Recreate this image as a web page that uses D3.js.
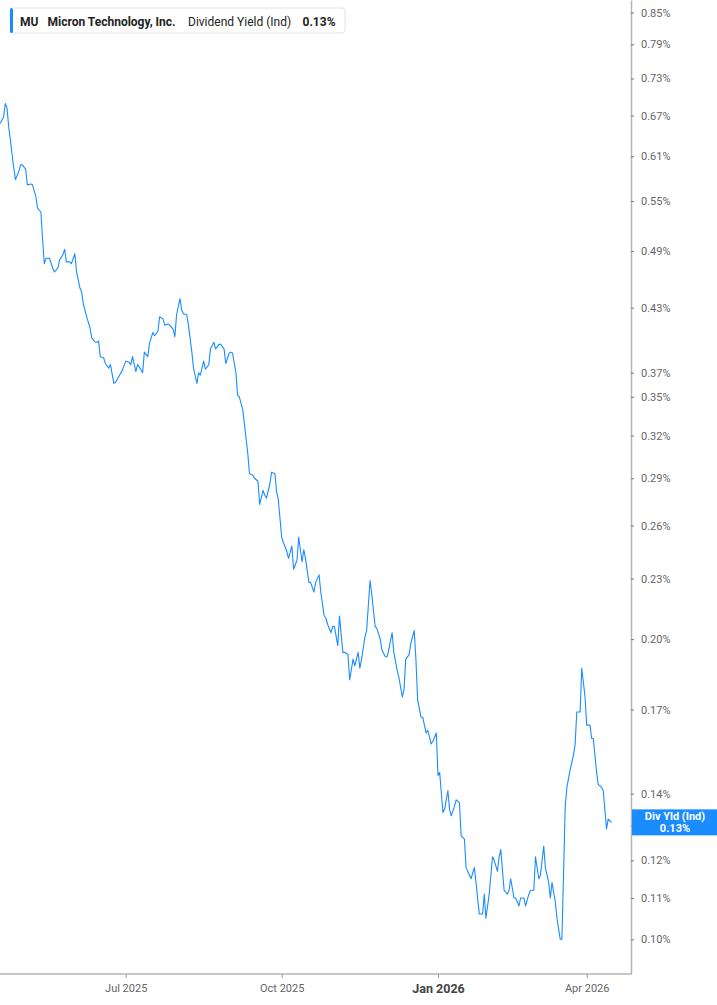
<!DOCTYPE html>
<html>
<head>
<meta charset="utf-8">
<script src="https://cdn.jsdelivr.net/npm/d3@7"></script>
<style>
	body { margin: 0; background: #fff; }
	svg { display: block; font-family: Roboto, "Noto Sans", sans-serif; }
</style>
</head>
<body>
<svg width="717" height="1005"></svg>
<script>
// MU dividend yield (indicated), in percent
const dates = [
	"2025-04-18","2025-04-20","2025-04-21","2025-04-22","2025-04-23","2025-04-24","2025-04-26","2025-04-27","2025-04-29","2025-04-30",
	"2025-05-01","2025-05-03","2025-05-04","2025-05-06","2025-05-07","2025-05-09","2025-05-10","2025-05-12","2025-05-13","2025-05-14",
	"2025-05-15","2025-05-17","2025-05-19","2025-05-20","2025-05-22","2025-05-23","2025-05-25","2025-05-26","2025-05-27","2025-05-29","2025-05-30",
	"2025-06-01","2025-06-02","2025-06-04","2025-06-05","2025-06-06","2025-06-08","2025-06-10","2025-06-11","2025-06-13","2025-06-14",
	"2025-06-15","2025-06-16","2025-06-18","2025-06-19","2025-06-21","2025-06-22","2025-06-24","2025-06-25","2025-06-27","2025-06-29",
	"2025-07-01","2025-07-03","2025-07-04","2025-07-05","2025-07-07","2025-07-08","2025-07-09","2025-07-11","2025-07-12","2025-07-14",
	"2025-07-15","2025-07-17","2025-07-18","2025-07-20","2025-07-21","2025-07-23","2025-07-24","2025-07-26","2025-07-27","2025-07-29","2025-07-30","2025-07-31",
	"2025-08-02","2025-08-03","2025-08-04","2025-08-06","2025-08-07","2025-08-09","2025-08-10","2025-08-12","2025-08-13","2025-08-14",
	"2025-08-16","2025-08-17","2025-08-19","2025-08-20","2025-08-22","2025-08-23","2025-08-25","2025-08-26","2025-08-28","2025-08-29","2025-08-31",
	"2025-09-01","2025-09-02","2025-09-04","2025-09-05","2025-09-06","2025-09-08","2025-09-09","2025-09-11","2025-09-12","2025-09-14",
	"2025-09-15","2025-09-17","2025-09-18","2025-09-20","2025-09-21","2025-09-22","2025-09-24","2025-09-25","2025-09-27","2025-09-28","2025-09-29",
	"2025-10-01","2025-10-02","2025-10-04","2025-10-05","2025-10-07","2025-10-08","2025-10-10","2025-10-11","2025-10-13","2025-10-14",
	"2025-10-15","2025-10-17","2025-10-18","2025-10-20","2025-10-21","2025-10-23","2025-10-24","2025-10-26","2025-10-27","2025-10-28","2025-10-30","2025-10-31",
	"2025-11-01","2025-11-03","2025-11-04","2025-11-06","2025-11-07","2025-11-09","2025-11-10","2025-11-12","2025-11-13","2025-11-15",
	"2025-11-16","2025-11-17","2025-11-19","2025-11-20","2025-11-22","2025-11-23","2025-11-25","2025-11-26","2025-11-28","2025-11-29",
	"2025-12-01","2025-12-02","2025-12-03","2025-12-05","2025-12-06","2025-12-08","2025-12-09","2025-12-11","2025-12-12","2025-12-13",
	"2025-12-15","2025-12-16","2025-12-18","2025-12-19","2025-12-20","2025-12-22","2025-12-23","2025-12-25","2025-12-26","2025-12-28","2025-12-29","2025-12-31",
	"2026-01-01","2026-01-02","2026-01-04","2026-01-05","2026-01-07","2026-01-08","2026-01-09","2026-01-11","2026-01-12","2026-01-14",
	"2026-01-15","2026-01-17","2026-01-18","2026-01-20","2026-01-21","2026-01-23","2026-01-24","2026-01-26","2026-01-28","2026-01-29","2026-01-30",
	"2026-02-01","2026-02-03","2026-02-04","2026-02-06","2026-02-07","2026-02-08","2026-02-10","2026-02-12","2026-02-13","2026-02-14",
	"2026-02-16","2026-02-17","2026-02-19","2026-02-20","2026-02-22","2026-02-23","2026-02-25","2026-02-26","2026-02-28",
	"2026-03-01","2026-03-03","2026-03-04","2026-03-06","2026-03-07","2026-03-09","2026-03-10","2026-03-11","2026-03-13","2026-03-14",
	"2026-03-16","2026-03-17","2026-03-19","2026-03-20","2026-03-22","2026-03-24","2026-03-25","2026-03-26","2026-03-28","2026-03-29","2026-03-31",
	"2026-04-01","2026-04-03","2026-04-04","2026-04-05","2026-04-07","2026-04-08","2026-04-10","2026-04-11","2026-04-13","2026-04-14","2026-04-16"
]
const yields = [
	0.658,0.668,0.689,0.682,0.653,0.633,0.593,0.578,0.589,0.598,
	0.598,0.592,0.571,0.572,0.571,0.556,0.541,0.536,0.503,0.476,
	0.482,0.482,0.471,0.467,0.471,0.480,0.486,0.492,0.478,0.478,0.476,
	0.487,0.467,0.450,0.446,0.434,0.421,0.410,0.401,0.397,0.397,
	0.398,0.384,0.383,0.378,0.374,0.377,0.361,0.362,0.367,0.372,
	0.380,0.379,0.377,0.384,0.371,0.377,0.375,0.370,0.388,0.384,
	0.396,0.406,0.403,0.407,0.421,0.419,0.413,0.414,0.413,0.409,0.402,0.423,
	0.439,0.428,0.424,0.423,0.413,0.388,0.374,0.361,0.370,0.368,
	0.380,0.373,0.377,0.391,0.397,0.391,0.395,0.395,0.391,0.378,0.387,
	0.388,0.387,0.370,0.351,0.350,0.340,0.329,0.307,0.293,0.292,
	0.290,0.288,0.273,0.282,0.279,0.277,0.286,0.294,0.293,0.281,0.276,
	0.253,0.250,0.245,0.241,0.248,0.235,0.240,0.253,0.239,0.246,
	0.241,0.228,0.228,0.223,0.228,0.232,0.223,0.211,0.210,0.207,0.203,0.206,
	0.206,0.197,0.211,0.194,0.194,0.193,0.182,0.191,0.188,0.194,
	0.187,0.191,0.201,0.204,0.229,0.222,0.206,0.205,0.200,0.195,
	0.192,0.192,0.195,0.203,0.194,0.186,0.183,0.175,0.178,0.191,
	0.193,0.198,0.204,0.191,0.174,0.167,0.167,0.161,0.162,0.157,0.158,0.161,
	0.146,0.147,0.134,0.135,0.141,0.135,0.133,0.136,0.138,0.137,
	0.127,0.126,0.118,0.116,0.115,0.118,0.114,0.106,0.106,0.111,0.105,
	0.111,0.121,0.120,0.117,0.121,0.123,0.112,0.111,0.112,0.115,
	0.110,0.110,0.108,0.110,0.110,0.108,0.111,0.112,0.112,
	0.121,0.115,0.116,0.124,0.118,0.114,0.110,0.114,0.109,0.105,
	0.100,0.100,0.136,0.142,0.148,0.153,0.157,0.169,0.169,0.187,0.175,
	0.164,0.164,0.159,0.159,0.147,0.143,0.142,0.141,0.129,0.132,0.131
]
const yTickValues = [0.10,0.11,0.12,0.13,0.14,0.17,0.20,0.23,0.26,0.29,0.32,0.35,0.37,0.43,0.49,0.55,0.61,0.67,0.73,0.79,0.85]
const xTickDates = ["2025-07-01","2025-10-01","2026-01-01","2026-04-01"]
const xTickLabels = ["Jul 2025","Oct 2025","Jan 2026","Apr 2026"]
const legendParts = ["MU","Micron Technology, Inc.","Dividend Yield (Ind)","0.13%"]
const endLabel = ["Div Yld (Ind)","0.13%"]

const BLUE = "#1a8cff"

class YieldChart {

	constructor(){
		this.svg = d3.select("svg")
		this.right = 631
		this.bottom = 974
		const parse = d3.timeParse("%Y-%m-%d")
		this.points = dates.map((d, i) => ({date: parse(d), value: yields[i]}))
		this.tickDates = xTickDates.map(parse)
		// x axis runs on trading sessions, so quarters are not evenly spaced in calendar days
		this.x = d3.scaleTime()
			.domain(this.tickDates)
			.range([125.7, 281.7, 438, 586.7])
		this.y = d3.scaleLog()
			.domain([0.0923, 0.875])
			.range([this.bottom, 0])
	}

	draw(){
		const svg = this.svg

		// bottom axis
		svg.append("line")
			.attr("x1", 0).attr("x2", this.right)
			.attr("y1", this.bottom).attr("y2", this.bottom)
			.attr("stroke", "#b4b4b4").attr("stroke-width", 1.5)

		const xAxis = svg.append("g")
			.attr("transform", `translate(0,${this.bottom})`)
			.call(d3.axisBottom(this.x)
				.tickValues(this.tickDates)
				.tickSize(4)
				.tickPadding(6)
				.tickFormat((d, i) => xTickLabels[i]))
		xAxis.select(".domain").remove()
		xAxis.selectAll(".tick line").attr("stroke", "#9a9a9a")
		xAxis.selectAll(".tick text")
			.attr("fill", "#666")
			.attr("font-size", 11)
			.attr("font-family", "Roboto, sans-serif")
		xAxis.selectAll(".tick text")
			.filter((d, i) => i == 2)
			.attr("fill", "#444")
			.attr("font-size", 12.5)
			.attr("font-weight", "bold")

		// right axis
		const yAxis = svg.append("g")
			.attr("transform", `translate(${this.right},0)`)
			.call(d3.axisRight(this.y)
				.tickValues(yTickValues)
				.tickSize(3)
				.tickSizeOuter(0)
				.tickPadding(7)
				.tickFormat(d => d.toFixed(2) + "%"))
		yAxis.select(".domain").attr("stroke", "#b4b4b4").attr("stroke-width", 1.5)
		yAxis.selectAll(".tick line").attr("stroke", "#777")
		yAxis.selectAll(".tick text")
			.attr("fill", "#666")
			.attr("font-size", 11)
			.attr("font-family", "Roboto, sans-serif")

		// the series
		const line = d3.line()
			.x(d => this.x(d.date))
			.y(d => this.y(d.value))
		svg.append("path")
			.datum(this.points)
			.attr("d", line)
			.attr("fill", "none")
			.attr("stroke", BLUE)
			.attr("stroke-width", 1.1)
			.attr("stroke-linejoin", "round")

		// last value tag on the axis
		const last = this.points[this.points.length - 1]
		const ly = this.y(last.value)
		const tag = svg.append("g").attr("transform", `translate(${this.right + 1},${ly})`)
		tag.append("rect")
			.attr("x", 0).attr("y", -13)
			.attr("width", 717 - this.right).attr("height", 26)
			.attr("fill", BLUE)
		tag.selectAll("text")
			.data(endLabel)
			.enter().append("text")
			.attr("x", 43)
			.attr("y", (d, i) => i == 0 ? -2 : 10)
			.attr("text-anchor", "middle")
			.attr("fill", "#fff")
			.attr("font-size", 11)
			.attr("font-weight", "bold")
			.text(d => d)

		this.drawLegend()
	}

	drawLegend(){
		const g = this.svg.append("g").attr("transform", "translate(10,8)")
		g.append("rect")
			.attr("width", 335).attr("height", 25).attr("rx", 3)
			.attr("fill", "#fff").attr("stroke", "#e2e2e2")
		g.append("rect")
			.attr("width", 3).attr("height", 25).attr("rx", 1.5)
			.attr("fill", BLUE)
		const xs = [10, 37.5, 178, 292.5]
		const bold = [true, true, false, true]
		g.selectAll("text.part")
			.data(legendParts)
			.enter().append("text")
			.attr("class", "part")
			.attr("x", (d, i) => xs[i])
			.attr("y", 17.5)
			.attr("font-size", 12)
			.attr("font-weight", (d, i) => bold[i] ? "bold" : "normal")
			.attr("fill", "#222")
			.text(d => d)
	}
}

const chart = new YieldChart()
chart.draw()
</script>
</body>
</html>
